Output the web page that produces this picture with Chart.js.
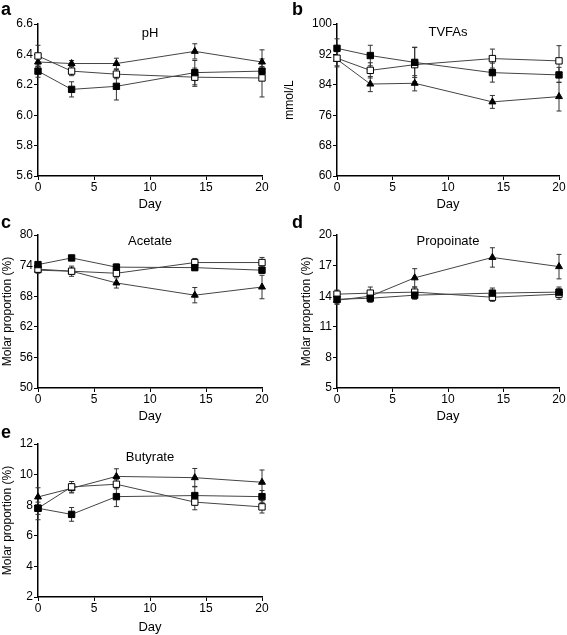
<!DOCTYPE html>
<html>
<head>
<meta charset="utf-8">
<script src="https://cdn.jsdelivr.net/npm/chart.js@4.4.0/dist/chart.umd.min.js"></script>
<style>
  body { margin: 0; background: #fff; }
  #fig { position: relative; width: 567px; height: 635px; overflow: hidden; }
  canvas { position: absolute; }
  .tag { position: absolute; font: bold 18px 'Liberation Sans', Arial, sans-serif; line-height: 18px; }
</style>
</head>
<body>
<div id="fig">
  <canvas id="cA" width="283" height="212" style="left:0px;top:0px"></canvas>
  <canvas id="cB" width="285" height="212" style="left:282px;top:0px"></canvas>
  <canvas id="cC" width="283" height="212" style="left:0px;top:212px"></canvas>
  <canvas id="cD" width="268" height="212" style="left:299px;top:212px"></canvas>
  <canvas id="cE" width="283" height="211" style="left:0px;top:424px"></canvas>
  <div class="tag" style="left:1px;top:0px">a</div>
  <div class="tag" style="left:292px;top:0px">b</div>
  <div class="tag" style="left:1px;top:213px">c</div>
  <div class="tag" style="left:292px;top:213px">d</div>
  <div class="tag" style="left:1px;top:423px">e</div>
</div>
<script>
// Rumen fermentation panels, mean +/- error over days

Chart.defaults.font.family = "'Liberation Sans', Arial, sans-serif";
Chart.defaults.color = '#000';
Chart.defaults.animation = false;

const days = [0, 3, 7, 14, 20];

// a: pH
const phFilled = [6.29, 6.17, 6.19, 6.28, 6.29];
const phFilledErr = [0.04, 0.05, 0.09, 0.08, 0.03];
const phOpen = [6.39, 6.29, 6.27, 6.25, 6.245];
const phOpenErr = [0.07, 0.03, 0.03, 0.06, 0.125];
const phTri = [6.35, 6.34, 6.34, 6.42, 6.35];
const phTriErr = [0.03, 0.02, 0.035, 0.05, 0.08];

// b: TVFAs (mmol/L)
const tvfaFilled = [93.6, 91.7, 89.9, 87.2, 86.6];
const tvfaFilledErr = [2.5, 2.7, 4, 2.5, 2];
const tvfaOpen = [91.0, 87.8, 89.3, 90.9, 90.3];
const tvfaOpenErr = [2, 2, 4.5, 2.5, 4];
const tvfaTri = [90.7, 84.2, 84.4, 79.5, 80.9];
const tvfaTriErr = [2, 2, 2, 1.7, 3.8];

// c: Acetate (%)
const acFilled = [74.2, 75.5, 73.7, 73.6, 73.1];
const acFilledErr = [0.5, 0.5, 0.6, 0.5, 0.6];
const acOpen = [73.3, 72.9, 72.5, 74.6, 74.6];
const acOpenErr = [0.6, 0.6, 0.5, 0.8, 1.0];
const acTri = [73.1, 72.9, 70.6, 68.2, 69.8];
const acTriErr = [0.6, 1.0, 1.0, 1.5, 2.3];

// d: Propoinate (%)
const prFilled = [13.7, 13.8, 14.1, 14.3, 14.4];
const prFilledErr = [0.4, 0.4, 0.4, 0.5, 0.5];
const prOpen = [14.2, 14.3, 14.4, 13.9, 14.2];
const prOpenErr = [0.4, 0.6, 0.5, 0.4, 0.5];
const prTri = [13.6, 14.0, 15.8, 17.8, 16.9];
const prTriErr = [0.4, 0.4, 0.9, 0.95, 1.2];

// e: Butyrate (%)
const buFilled = [7.8, 7.4, 8.56, 8.63, 8.56];
const buFilledErr = [0.75, 0.45, 0.65, 0.6, 0.4];
const buOpen = [7.8, 9.2, 9.37, 8.2, 7.89];
const buOpenErr = [0.4, 0.35, 0.3, 0.5, 0.4];
const buTri = [8.54, 9.1, 9.88, 9.8, 9.5];
const buTriErr = [0.6, 0.3, 0.5, 0.6, 0.8];

const markers = [
    { pointStyle: 'rect', pointRadius: 4.5, fill: '#000' },
    { pointStyle: 'rect', pointRadius: 4.5, fill: '#fff' },
    { pointStyle: 'triangle', pointRadius: 4, fill: '#000' }
];

// error bars + in-plot title
const panelExtras = {
    id: 'panelExtras',
    beforeDatasetsDraw(chart) {
        const ctx = chart.ctx;
        const yScale = chart.scales.y;
        ctx.save();
        ctx.strokeStyle = '#333';
        ctx.lineWidth = 1;
        chart.data.datasets.forEach((ds, i) => {
            const meta = chart.getDatasetMeta(i);
            meta.data.forEach((pt, j) => {
                const v = ds.data[j].y, e = ds.errors[j];
                const y1 = yScale.getPixelForValue(v + e);
                const y2 = yScale.getPixelForValue(v - e);
                ctx.beginPath();
                ctx.moveTo(pt.x, y1); ctx.lineTo(pt.x, y2);
                ctx.moveTo(pt.x - 2.5, y1); ctx.lineTo(pt.x + 2.5, y1);
                ctx.moveTo(pt.x - 2.5, y2); ctx.lineTo(pt.x + 2.5, y2);
                ctx.stroke();
            });
        });
        ctx.restore();
    },
    afterDraw(chart) {
        const a = chart.chartArea;
        const o = chart.options.plugins.panelExtras;
        const ctx = chart.ctx;
        ctx.save();
        ctx.fillStyle = '#000';
        ctx.font = "13px 'Liberation Sans', Arial, sans-serif";
        ctx.textAlign = 'center';
        ctx.textBaseline = 'middle';
        ctx.fillText(o.text, (a.left + a.right) / 2, a.top + o.offset);
        ctx.restore();
    }
};

function panel(id, box, title, yOpts, series, errs) {
    new Chart(document.getElementById(id), {
        type: 'line',
        data: {
            datasets: series.map((vals, i) => ({
                data: vals.map((v, j) => ({ x: days[j], y: v })),
                errors: errs[i],
                borderColor: '#444',
                borderWidth: 1,
                pointStyle: markers[i].pointStyle,
                pointRadius: markers[i].pointRadius,
                pointBackgroundColor: markers[i].fill,
                pointBorderColor: '#000',
                pointBorderWidth: 1,
                tension: 0,
                clip: false
            }))
        },
        plugins: [panelExtras],
        options: {
            responsive: false,
            layout: { padding: { left: 0, right: box.right, top: box.top, bottom: 0 } },
            plugins: {
                legend: { display: false },
                tooltip: { enabled: false },
                panelExtras: { text: title.text, offset: title.offset }
            },
            scales: {
                x: {
                    type: 'linear',
                    min: 0, max: 20,
                    ticks: { stepSize: 5, padding: 0, font: { size: 12 } },
                    grid: { drawOnChartArea: false, color: '#000', tickLength: 4 },
                    border: { color: '#000', width: 1.5 },
                    title: { display: true, text: 'Day', font: { size: 13 }, padding: 0 },
                    afterFit(scale) { scale.height = box.xh; }
                },
                y: {
                    min: yOpts.min, max: yOpts.max,
                    ticks: {
                        stepSize: yOpts.step, padding: 1, font: { size: 12 },
                        callback: yOpts.fmt || (v => v)
                    },
                    grid: { drawOnChartArea: false, color: '#000', tickLength: 4 },
                    border: { color: '#000', width: 1.5 },
                    title: { display: !!yOpts.label, text: yOpts.label, font: { size: 12 }, padding: 0 },
                    afterFit(scale) { scale.width = box.yw; }
                }
            }
        }
    });
}

panel('cA', { yw: 38, right: 21, top: 24, xh: 36 }, { text: 'pH', offset: 9 },
    { min: 5.6, max: 6.6, step: 0.2, fmt: v => v.toFixed(1) },
    [phFilled, phOpen, phTri], [phFilledErr, phOpenErr, phTriErr]);

panel('cB', { yw: 55, right: 8, top: 24, xh: 36 }, { text: 'TVFAs', offset: 8 },
    { min: 60, max: 100, step: 8, label: 'mmol/L' },
    [tvfaFilled, tvfaOpen, tvfaTri], [tvfaFilledErr, tvfaOpenErr, tvfaTriErr]);

panel('cC', { yw: 38, right: 21, top: 23, xh: 36 }, { text: 'Acetate', offset: 6 },
    { min: 50, max: 80, step: 6, label: 'Molar proportion (%)' },
    [acFilled, acOpen, acTri], [acFilledErr, acOpenErr, acTriErr]);

panel('cD', { yw: 38, right: 8, top: 23, xh: 36 }, { text: 'Propoinate', offset: 6 },
    { min: 5, max: 20, step: 3, label: 'Molar proportion (%)' },
    [prFilled, prOpen, prTri], [prFilledErr, prOpenErr, prTriErr]);

panel('cE', { yw: 38, right: 21, top: 20, xh: 38 }, { text: 'Butyrate', offset: 13 },
    { min: 2, max: 12, step: 2, label: 'Molar proportion (%)' },
    [buFilled, buOpen, buTri], [buFilledErr, buOpenErr, buTriErr]);
</script>
</body>
</html>
